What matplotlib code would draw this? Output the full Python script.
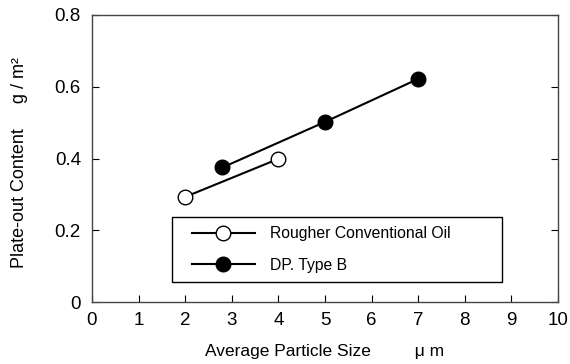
import matplotlib.pyplot as plt
from matplotlib.lines import Line2D
from matplotlib.legend_handler import HandlerLine2D

plt.rcParams['font.family'] = ['Liberation Sans', 'DejaVu Sans']

rough_x = [2.0, 4.0]
rough_y = [0.293, 0.399]
dp_x = [2.8, 5.0, 7.0]
dp_y = [0.375, 0.502, 0.622]

xticks = [0, 1, 2, 3, 4, 5, 6, 7, 8, 9, 10]
yticks = [0, 0.2, 0.4, 0.6, 0.8]
ylabels = ['0', '0.2', '0.4', '0.6', '0.8']

fig = plt.figure(figsize=(5.7, 3.64), dpi=100)
ax = fig.add_axes([0.1614, 0.1703, 0.8176, 0.7885])

ax.plot(rough_x, rough_y, color='black', lw=1.5, marker='o', ms=10.5,
        mfc='white', mec='black', mew=1.0, label='Rougher Conventional Oil')
ax.plot(dp_x, dp_y, color='black', lw=1.5, marker='o', ms=10.5,
        mfc='black', mec='black', label='DP. Type B')

ax.set_xlim(0, 10)
ax.set_ylim(0, 0.8)
ax.set_xticks(xticks)
ax.set_yticks(yticks)
ax.set_yticklabels(ylabels)
ax.tick_params(axis='x', direction='in', length=5, labelsize=13.5, pad=7)
ax.tick_params(axis='y', direction='in', length=5, labelsize=13.5, right=True, pad=8)
for s in ax.spines.values():
    s.set_color('#444444')
    s.set_linewidth(1.0)

ax.set_xlabel('Average Particle Size         μ m', fontsize=12.5, va='center')
ax.xaxis.set_label_coords(0.498, -0.174)
ax.set_ylabel('Plate-out Content     g / m²', fontsize=13, va='center')
ax.yaxis.set_label_coords(-0.155, 0.487)

# xpad pushes the handle line start to the right
leg = ax.legend(loc='lower left', bbox_to_anchor=(0.172, 0.07, 0.707, 0.233),
                mode='expand', borderaxespad=0, fontsize=11.3, handlelength=4.65,
                handletextpad=0.96, fancybox=False, framealpha=1, edgecolor='black',
                borderpad=0.6, labelspacing=1.05,
                handler_map={Line2D: HandlerLine2D(xpad=0.64)})
leg.get_frame().set_linewidth(1.0)

fig.savefig('out.png', dpi=100)
